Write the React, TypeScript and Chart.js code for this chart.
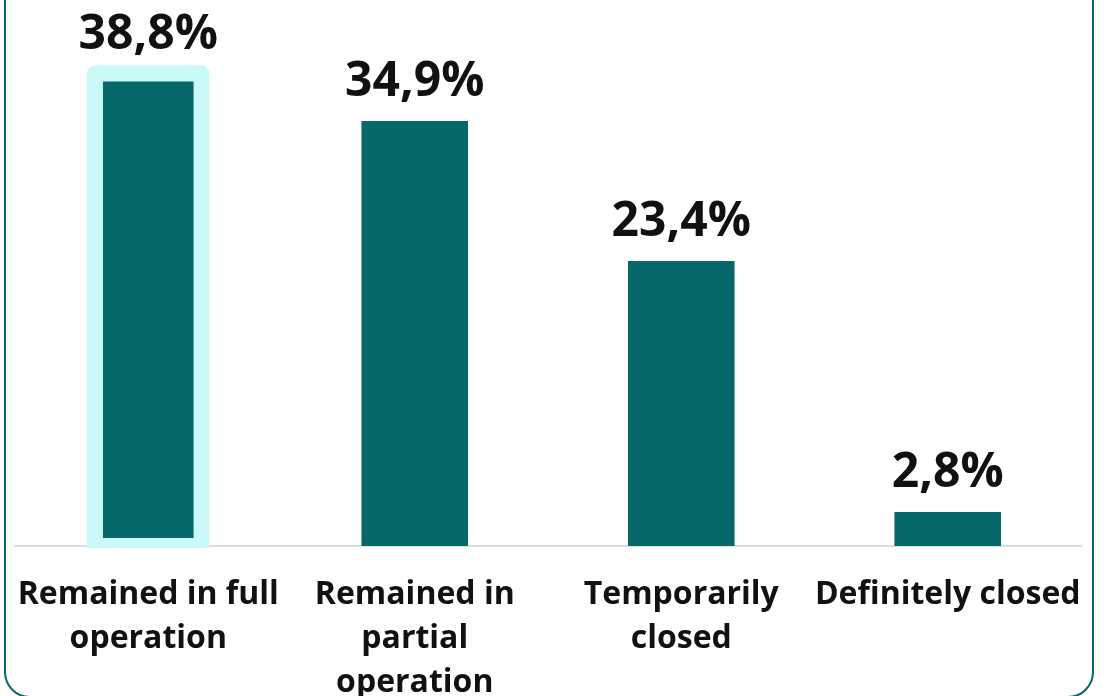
import React, { useEffect, useRef } from "react";
import { Chart, registerables } from "chart.js";

Chart.register(...registerables);

const categories: string[][] = [
  ["Remained in full", "operation"],
  ["Remained in", "partial", "operation"],
  ["Temporarily", "closed"],
  ["Definitely closed"],
];
const values: number[] = [38.8, 34.9, 23.4, 2.8];
const valueLabels: string[] = ["38,8%", "34,9%", "23,4%", "2,8%"];
const highlightedIndex = 0;

const TEAL = "#07686b";
const CYAN = "#c9f9f9";

const highlightPlugin = {
  id: "highlightBar",
  afterDatasetsDraw(chart: any) {
    const meta = chart.getDatasetMeta(0);
    const bar = meta.data[highlightedIndex];
    if (!bar) return;
    const { x, y, base, width } = bar.getProps(["x", "y", "base", "width"], true);
    const ctx = chart.ctx;
    ctx.save();
    ctx.beginPath();
    ctx.rect(0, 0, chart.width, base + 2);
    ctx.clip();
    ctx.strokeStyle = CYAN;
    ctx.lineWidth = 16;
    ctx.lineJoin = "round";
    ctx.strokeRect(x - width / 2, y, width, base - y);
    ctx.restore();
  },
};

const valueLabelPlugin = {
  id: "valueLabels",
  afterDraw(chart: any) {
    const meta = chart.getDatasetMeta(0);
    const ctx = chart.ctx;
    ctx.save();
    ctx.font = "bold 48px 'Open Sans'";
    ctx.fillStyle = "#111111";
    ctx.textAlign = "center";
    ctx.textBaseline = "alphabetic";
    meta.data.forEach((el: any, i: number) => {
      const { x, y } = el.getProps(["x", "y"], true);
      ctx.fillText(valueLabels[i], x, y - 25);
    });
    ctx.restore();
  },
};

export default function App() {
  const canvasRef = useRef<HTMLCanvasElement | null>(null);

  useEffect(() => {
    document.body.style.margin = "0";
    document.body.style.overflow = "hidden";
    const canvas = canvasRef.current;
    if (!canvas) return;
    const chart = new Chart(canvas, {
      type: "bar",
      data: {
        labels: categories,
        datasets: [
          {
            data: values,
            backgroundColor: TEAL,
            borderWidth: 0,
            categoryPercentage: 1,
            barPercentage: 0.4,
          },
        ],
      },
      options: {
        responsive: false,
        animation: false,
        events: [],
        layout: { padding: { left: 15, right: 23, top: 59, bottom: 0 } },
        plugins: {
          legend: { display: false },
          tooltip: { enabled: false },
        },
        scales: {
          x: {
            z: 1,
            grid: { display: false, drawTicks: false },
            border: { display: true, color: "#dddddd", width: 2 },
            afterFit: (scale: any) => {
              scale.height = 156;
              scale.paddingLeft = 0;
              scale.paddingRight = 0;
            },
            ticks: {
              autoSkip: false,
              maxRotation: 0,
              minRotation: 0,
              padding: 27,
              color: "#111111",
              font: { family: "'Open Sans'", size: 32, weight: "bold", lineHeight: 1.375 },
            },
          },
          y: {
            display: false,
            min: 0,
            max: 40,
          },
        },
      },
      plugins: [highlightPlugin, valueLabelPlugin],
    });
    return () => chart.destroy();
  }, []);

  return (
    <div style={{ position: "fixed", left: 0, top: 0, width: 1104, height: 696, overflow: "hidden", background: "#fff" }}>
      <div
        style={{
          position: "absolute",
          left: 4,
          top: -40,
          width: 1090,
          height: 738,
          boxSizing: "border-box",
          border: `2px solid ${TEAL}`,
          borderRadius: 26,
        }}
      />
      <canvas
        ref={canvasRef}
        width={1104}
        height={702}
        style={{ position: "absolute", left: 0, top: 0, width: 1104, height: 702 }}
      />
    </div>
  );
}
